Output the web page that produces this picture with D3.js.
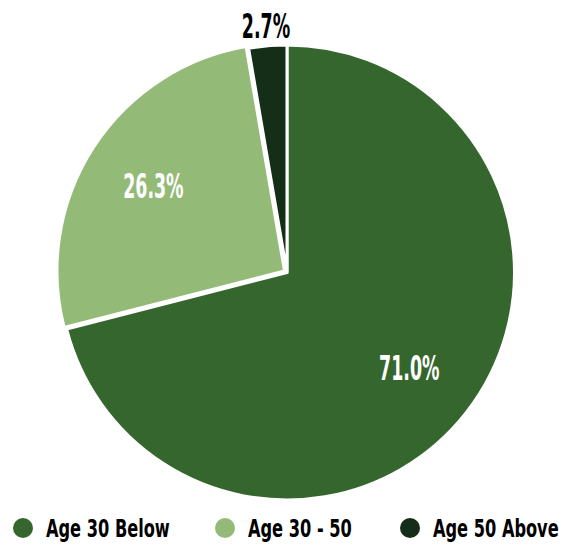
<!DOCTYPE html>
<html>
<head>
<meta charset="utf-8">
<script src="https://cdn.jsdelivr.net/npm/d3@7"></script>
<style>
  html, body { margin: 0; padding: 0; background: #fff; }
  svg { display: block; }
  text { font-family: "DejaVu Sans Condensed", "DejaVu Sans", sans-serif; font-weight: bold; }
</style>
</head>
<body>
<svg id="chart" width="567" height="547"></svg>
<script>
const categories = ["Age 30 Below", "Age 30 - 50", "Age 50 Above"];
const values = [71.0, 26.3, 2.7];
const colors = ["#35662e", "#94ba78", "#142e18"];
const labelColors = ["#ffffff", "#ffffff", "#000000"];
const labelRadiusFactor = [0.68, 0.70, 1.09];
const explode = [0, 3, 0];

const svg = d3.select("#chart");
const cx = 287, cy = 272.5, r = 227.5;
const g = svg.append("g").attr("transform", `translate(${cx},${cy})`);

const data = categories.map((c, i) => ({ cat: c, value: values[i], i }));
const pie = d3.pie().value(d => d.value).sort(null);
const arcs = pie(data);
const arc = d3.arc().innerRadius(0).outerRadius(r);

function offset(d, k) {
  const a = (d.startAngle + d.endAngle) / 2;
  return [Math.sin(a) * k, -Math.cos(a) * k];
}

g.selectAll("path.slice").data(arcs).join("path")
  .attr("class", "slice")
  .attr("d", arc)
  .attr("fill", d => colors[d.data.i])
  .attr("stroke", "#fff")
  .attr("stroke-width", 3)
  .attr("stroke-linejoin", "miter")
  .attr("transform", d => { const o = offset(d, explode[d.data.i]); return `translate(${o[0]},${o[1]})`; });

g.selectAll("text.lbl").data(arcs).join("text")
  .attr("class", "lbl")
  .attr("transform", d => {
    const o = offset(d, r * labelRadiusFactor[d.data.i]);
    return `translate(${o[0]},${o[1]}) scale(0.57,1)`;
  })
  .attr("text-anchor", "middle")
  .attr("dy", "0.36em")
  .attr("font-size", 34)
  .attr("fill", d => labelColors[d.data.i])
  .text(d => d.data.value.toFixed(1) + "%");

// legend
const legendX = [23, 225, 410];
const lg = svg.append("g");
const items = lg.selectAll("g").data(data).join("g")
  .attr("transform", (d, i) => `translate(${legendX[i]},528)`);
items.append("circle").attr("r", 10).attr("fill", d => colors[d.i]);
items.append("text")
  .attr("transform", "translate(23,0) scale(0.75,1)")
  .attr("dy", "0.36em")
  .attr("font-size", 24)
  .attr("fill", "#000")
  .text(d => d.cat);
</script>
</body>
</html>
